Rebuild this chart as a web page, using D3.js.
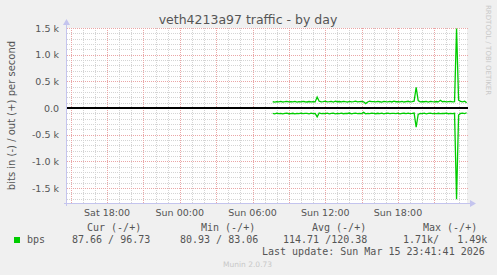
<!DOCTYPE html>
<html><head><meta charset="utf-8">
<script src="https://cdn.jsdelivr.net/npm/d3@7"></script>
<style>html,body{margin:0;padding:0;background:#f0f0f0;overflow:hidden}</style>
</head><body>
<svg id="c" width="497" height="275"></svg>
<script>
// ---- data ----
const title = "veth4213a97 traffic - by day";
const yLabel = "bits in (-) / out (+) per second";
const endTime = "2026-03-15T23:41:41Z";
const firstSample = "2026-03-15T07:40:00Z";
const sampleMinutes = 10;
const outValues = [118,112,121,115,124,113,119,126,114,120,117,123,112,121,116,125,118,113,122,117,120,115,
  205,
  128,114,121,130,116,119,124,113,127,118,122,115,126,119,113,124,117,121,128,114,120,125,116,83,113,127,119,121,115,124,118,112,126,120,117,123,114,129,118,121,116,125,113,120,127,117,122,130,
  390,
  140,115,121,118,124,113,126,119,117,122,115,145,118,123,116,121,125,114,119,
  1490,
  150,124,117,128,97];
const inValues = [102,108,97,105,99,110,101,96,107,103,98,109,100,104,95,106,101,99,108,97,103,100,
  165,
  92,106,99,103,97,110,101,95,108,100,104,96,107,99,102,94,109,101,97,105,100,103,81,108,99,104,96,101,107,98,103,95,110,100,97,106,102,99,104,96,108,101,98,103,97,105,100,94,
  360,
  120,99,104,96,108,101,97,105,100,103,98,106,99,102,96,107,100,104,98,
  1710,
  130,102,97,105,88];
const yTicks = [-1500,-1000,-500,0,500,1000,1500];
const yTickLabels = ["-1.5 k","-1.0 k","-0.5 k","0.0","0.5 k","1.0 k","1.5 k"];
const legendHeaders = ["Cur (-/+)","Min (-/+)","Avg (-/+)","Max (-/+)"];
const legendValues = ["87.66 / 96.73","80.93 / 83.06","114.71 /120.38","1.71k/   1.49k"];
const seriesName = "bps";
const lastUpdate = "Last update: Sun Mar 15 23:41:41 2026";
const credit = "Munin 2.0.73";
const sideText = "RRDTOOL / TOBI OETIKER";

// ---- layout ----
const svg = d3.select("#c");
const L = 67, R = 467, T = 28, B = 203;
const end = new Date(endTime);
const start = new Date(end.getTime() - 33*3600*1000);
const x = d3.scaleUtc().domain([start, end]).range([L, R]);
const y = d3.scaleLinear().domain([-1780, 1500]).range([B, T]);
const font = "'DejaVu Sans', sans-serif";
const mono = "'DejaVu Sans Mono', monospace";
const txt = "#555";

svg.append("rect").attr("width",497).attr("height",275).attr("fill","#f0f0f0");
svg.append("rect").attr("x",L).attr("y",T).attr("width",R-L).attr("height",B-T).attr("fill","#fff");

const g = svg.append("g");
const minorC = "#d4d4d4", majorC = "#eaa6a6";
// minor grid
const minorY = d3.range(-1700, 1501, 100).filter(v => v % 500 !== 0);
g.selectAll(".my").data(minorY).join("line")
  .attr("x1",L).attr("x2",R+1).attr("y1",d=>Math.round(y(d))+0.5).attr("y2",d=>Math.round(y(d))+0.5)
  .attr("stroke",minorC).attr("stroke-dasharray","1,1");
const hours = d3.utcHour.range(start, end);
g.selectAll(".mx").data(hours.filter(h => h.getUTCHours() % 3 !== 0)).join("line")
  .attr("y1",T).attr("y2",B).attr("x1",d=>Math.round(x(d))+0.5).attr("x2",d=>Math.round(x(d))+0.5)
  .attr("stroke",minorC).attr("stroke-dasharray","1,1");
// major grid
g.selectAll(".My").data(yTicks).join("line")
  .attr("x1",L).attr("x2",R+1).attr("y1",d=>Math.round(y(d))+0.5).attr("y2",d=>Math.round(y(d))+0.5)
  .attr("stroke",majorC).attr("stroke-dasharray","1,1");
g.selectAll(".Mx").data(hours.filter(h => h.getUTCHours() % 3 === 0)).join("line")
  .attr("y1",T).attr("y2",B).attr("x1",d=>Math.round(x(d))+0.5).attr("x2",d=>Math.round(x(d))+0.5)
  .attr("stroke",majorC).attr("stroke-dasharray","1,1");

// y tick labels
g.selectAll(".yl").data(yTicks).join("text")
  .attr("x",59).attr("y",d=>y(d)+3.5).attr("text-anchor","end")
  .attr("font-family",font).attr("font-size","9.5px").attr("fill",txt)
  .text((d,i)=>yTickLabels[i]);
// x tick labels
const fmt = d3.utcFormat("%a %H:%M");
g.selectAll(".xl").data(hours.filter(h => h.getUTCHours() % 6 === 0)).join("text")
  .attr("x",d=>x(d)).attr("y",216).attr("text-anchor","middle")
  .attr("font-family",font).attr("font-size","9.5px").attr("fill",txt)
  .text(d=>fmt(d));

// axes
const ax = "#c4c4ee";
svg.append("line").attr("x1",L-0.5).attr("x2",L-0.5).attr("y1",B+3).attr("y2",T-6).attr("stroke",ax);
svg.append("path").attr("d",`M${L-4},${T-3} L${L-0.5},${T-9} L${L+3},${T-3} Z`).attr("fill",ax);
svg.append("line").attr("x1",L-3).attr("x2",R+4).attr("y1",B+0.5).attr("y2",B+0.5).attr("stroke",ax);
svg.append("path").attr("d",`M${R+3},${B-3} L${R+9},${B+0.5} L${R+3},${B+4} Z`).attr("fill",ax);

// series
const t0 = new Date(firstSample).getTime();
const outData = outValues.map((v,i)=>({t:new Date(t0+i*sampleMinutes*60000), v}));
const inData = inValues.map((v,i)=>({t:new Date(t0+i*sampleMinutes*60000), v:-v}));
const line = d3.line().x(d=>x(d.t)).y(d=>y(d.v));
svg.append("path").datum(outData).attr("d",line).attr("fill","none").attr("stroke","#00cc00").attr("stroke-width",1.3);
svg.append("path").datum(inData).attr("d",line).attr("fill","none").attr("stroke","#00cc00").attr("stroke-width",1.3);

// zero line
svg.append("line").attr("x1",L).attr("x2",R+1).attr("y1",y(0)).attr("y2",y(0)).attr("stroke","#000").attr("stroke-width",2);

// title
svg.append("text").attr("x",248).attr("y",23.5).attr("text-anchor","middle")
  .attr("font-family",font).attr("font-size","12.5px").attr("fill",txt).text(title);
// y label
svg.append("text").attr("transform",`translate(15,${(T+B)/2}) rotate(-90)`).attr("text-anchor","middle")
  .attr("font-family",font).attr("font-size","10px").attr("fill",txt).text(yLabel);
// side text
svg.append("text").attr("transform",`translate(486,5) rotate(90)`).attr("text-anchor","start")
  .attr("font-family",font).attr("font-size","7px").attr("fill","#c8c8c8").text(sideText);

// legend
const hx = [87, 201, 312, 423];
const vx = [72, 180, 283, 403];
svg.selectAll(".lh").data(legendHeaders).join("text")
  .attr("x",(d,i)=>hx[i]).attr("y",231).attr("font-family",mono).attr("font-size","10px").attr("fill",txt)
  .style("white-space","pre").text(d=>d);
svg.selectAll(".lv").data(legendValues).join("text")
  .attr("x",(d,i)=>vx[i]).attr("y",243).attr("font-family",mono).attr("font-size","10px").attr("fill",txt)
  .style("white-space","pre").text(d=>d);
svg.append("rect").attr("x",14).attr("y",237).attr("width",6).attr("height",6).attr("fill","#00cc00");
svg.append("text").attr("x",27).attr("y",243).attr("font-family",mono).attr("font-size","10px").attr("fill",txt).text(seriesName);
svg.append("text").attr("x",262).attr("y",254.5).attr("font-family",mono).attr("font-size","10px").attr("fill",txt).text(lastUpdate);
svg.append("text").attr("x",223).attr("y",267).attr("font-family",font).attr("font-size","7.5px").attr("fill","#c8c8c8").text(credit);
</script>
</body></html>
